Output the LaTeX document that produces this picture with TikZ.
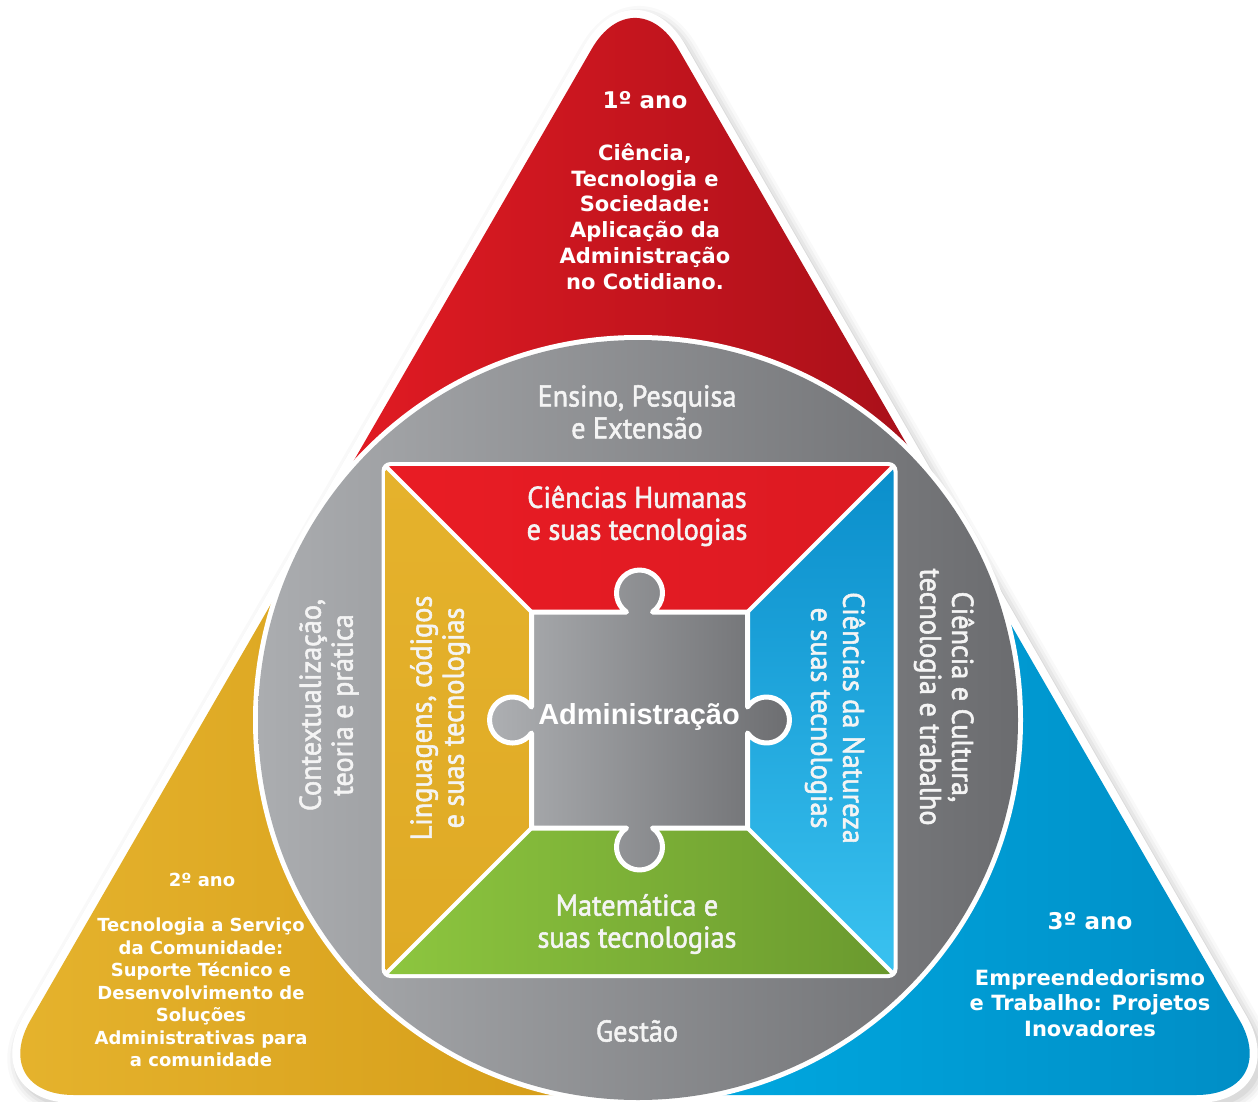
\documentclass[tikz,border=0pt]{standalone}
\usepackage{fontspec}
\usetikzlibrary{calc}
\newfontfamily\ringfont[FakeStretch=0.94,FakeBold=1.8]{PT Sans}
\newfontfamily\yearfont{DejaVu Sans}
\newfontfamily\adminfont{Liberation Sans}
\definecolor{triredL}{HTML}{E31B23}
\definecolor{triredR}{HTML}{A50F19}
\definecolor{triyelL}{HTML}{E6B42E}
\definecolor{triyelR}{HTML}{D69E1A}
\definecolor{tribluL}{HTML}{00A8E0}
\definecolor{tribluR}{HTML}{008CC4}
\definecolor{ringL}{HTML}{ABADB0}
\definecolor{ringR}{HTML}{6B6C6F}
\definecolor{inred}{HTML}{E91C24}
\definecolor{inredR}{HTML}{DC1A22}
\definecolor{inyelT}{HTML}{E5B22C}
\definecolor{inyelB}{HTML}{DFAA25}
\definecolor{inbluT}{HTML}{0A8ECB}
\definecolor{inbluB}{HTML}{3AC2F0}
\definecolor{ingrnL}{HTML}{8DC63F}
\definecolor{ingrnR}{HTML}{6A992E}
\definecolor{pzL}{HTML}{AEB0B3}
\definecolor{pzR}{HTML}{6C6D70}
\definecolor{ringtext}{HTML}{F4F4F4}
\newcommand\tripath{(635,-26) -- (-12.8,1095) -- (1282.8,1095) -- cycle}
\newcommand\puzzlepath{(531.5,612) -- (626.5,612) arc (124.4:415.6:23) -- (747.5,612) -- (747.5,707) arc (214.4:505.6:23) -- (747.5,828) -- (652.5,828) arc (304.4:595.6:23) -- (531.5,828) -- (531.5,733) arc (34.4:325.6:23) -- cycle}
\begin{document}
\begin{tikzpicture}[x=1pt,y=-1pt,
  ringtxt/.style={text=ringtext, font=\ringfont\fontsize{30}{32}\selectfont, align=center, inner sep=0pt},
  yeartitle/.style={text=white, font=\yearfont\bfseries\fontsize{23}{26}\selectfont, inner sep=0pt},
  yearbody/.style={text=white, font=\yearfont\bfseries\fontsize{21}{25.8}\selectfont, align=center, inner sep=0pt},
  yeartitlesm/.style={text=white, font=\yearfont\bfseries\fontsize{18}{22.5}\selectfont, inner sep=0pt},
  yearbodysm/.style={text=white, font=\yearfont\bfseries\fontsize{18}{22.5}\selectfont, align=center, inner sep=0pt},
  admintxt/.style={text=white, font=\adminfont\bfseries\fontsize{29}{32}\selectfont, inner sep=0pt},
  divline/.style={white, line width=4pt},
  ]
\useasboundingbox (0,0) rectangle (1258,1102);
\fill[white] (0,0) rectangle (1258,1102);
% soft shadow
\foreach \w/\o in {34/0.025, 28/0.03, 22/0.04, 16/0.05} {
  \draw[black, opacity=\o, line width=\w pt, rounded corners=86.6pt, line join=round, shift={(4,5)}] \tripath;
}
% white border of triangle
\filldraw[white, line width=16pt, rounded corners=86.6pt, line join=round] \tripath;
% coloured corners
\begin{scope}
  \clip[rounded corners=86.6pt] \tripath;
  \begin{scope}
    \clip (638,720) -- (-228,220) -- (-228,-100) -- (1504,-100) -- (1504,220) -- cycle;
    \shade[left color=triredL, right color=triredR] (330,-40) rectangle (950,480);
  \end{scope}
  \begin{scope}
    \clip (638,720) -- (-228,220) -- (-228,1200) -- (638,1200) -- cycle;
    \shade[left color=triyelL, right color=triyelR] (-20,560) rectangle (560,1110);
  \end{scope}
  \begin{scope}
    \clip (638,720) -- (1504,220) -- (1504,1200) -- (638,1200) -- cycle;
    \shade[left color=tribluL, right color=tribluR] (700,560) rectangle (1290,1110);
  \end{scope}
\end{scope}
% ring
\fill[white] (638,720) circle (385);
\shade[left color=ringL, right color=ringR] (638,720) circle (380);
% inner square
\coordinate (OTL) at (385.5,466);
\coordinate (OTR) at (893.5,466);
\coordinate (OBR) at (893.5,974);
\coordinate (OBL) at (385.5,974);
\coordinate (ITL) at (531.5,612);
\coordinate (ITR) at (747.5,612);
\coordinate (IBR) at (747.5,828);
\coordinate (IBL) at (531.5,828);
\fill[white, rounded corners=9pt] (381.5,462) rectangle (897.5,978);
\begin{scope}
  \clip[rounded corners=6pt] (385.5,466) rectangle (893.5,974);
  \shade[left color=inred, right color=inredR] (385.5,466) -- (893.5,466) -- (747.5,612) -- (531.5,612) -- cycle;
  \shade[top color=inyelT, bottom color=inyelB] (385.5,466) -- (531.5,612) -- (531.5,828) -- (385.5,974) -- cycle;
  \shade[top color=inbluT, bottom color=inbluB] (893.5,466) -- (893.5,974) -- (747.5,828) -- (747.5,612) -- cycle;
  \shade[left color=ingrnL, right color=ingrnR] (385.5,974) -- (531.5,828) -- (747.5,828) -- (893.5,974) -- cycle;
\end{scope}
\draw[divline] (OTL) -- (ITL);
\draw[divline] (OTR) -- (ITR);
\draw[divline] (OBR) -- (IBR);
\draw[divline] (OBL) -- (IBL);
% puzzle piece
\path[draw=white, line width=5pt, line join=round, left color=pzL, right color=pzR] \puzzlepath;
% texts
\node[yeartitle] (y1t) at (645,100) {1º ano};
\node[yearbody] (y1b) at (645,216.5) {Ciência,\\Tecnologia e\\Sociedade:\\Aplicação da\\Administração\\no Cotidiano.};
\node[yeartitlesm] (y2t) at (202,880) {2º ano};
\node[yearbodysm] (y2b) at (201,992.5) {Tecnologia a Serviço\\da Comunidade:\\Suporte Técnico e\\Desenvolvimento de\\Soluções\\Administrativas para\\a comunidade};
\node[yeartitle] (y3t) at (1090,921) {3º ano};
\node[yearbody] (y3b) at (1090,1003) {Empreendedorismo\\e Trabalho: Projetos\\Inovadores};
\node[ringtxt] (ring1) at (637,412) {Ensino, Pesquisa\\e Extensão};
\node[ringtxt] (ring2) at (637,1031) {Gestão};
\node[ringtxt, rotate=90] (ring3) at (329,705) {Contextualização,\\teoria e prática};
\node[ringtxt, rotate=-90] (ring4) at (944,697) {Ciência e Cultura,\\tecnologia e trabalho};
\node[ringtxt] (ch) at (637,516) {Ciências Humanas\\e suas tecnologias};
\node[ringtxt, rotate=90] (lc) at (440,718) {Linguagens, códigos\\e suas tecnologias};
\node[ringtxt, rotate=-90] (cn) at (835,718) {Ciências da Natureza\\e suas tecnologias};
\node[ringtxt] (mt) at (637,924) {Matemática e\\suas tecnologias};
\node[admintxt] (adm) at (639,717) {Administração};
\end{tikzpicture}
\end{document}
